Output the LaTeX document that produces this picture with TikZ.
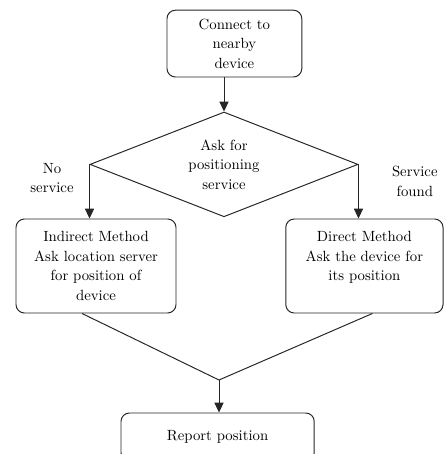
\documentclass[tikz,border=0pt]{standalone}
\usepackage{tikz}
\usetikzlibrary{shapes.geometric, positioning, arrows.meta, calc}

\begin{document}
\begin{tikzpicture}[
          bx/.style={rectangle, rounded corners=6pt, draw=black!85,
                     line width=0.7pt, align=center,
                     font=\fontsize{10.5}{13.9}\selectfont},
          dec/.style={diamond, aspect=2.55, draw=black!85, line width=0.7pt,
                      inner sep=0pt, align=center,
                      minimum width=6.7cm, minimum height=2.62cm,
                      font=\fontsize{10.5}{13.9}\selectfont},
          lbl/.style={align=center, font=\fontsize{10.5}{13.9}\selectfont},
          ln/.style={draw=black!85, line width=0.7pt},
          arr/.style={ln, -{Triangle[length=7pt, width=6.5pt]}}
        ]
        \useasboundingbox (0, 0) rectangle (11.1, -11.35);
        \clip (0, 0) rectangle (11.1, -11.35);

        \node[bx, minimum width=3.37cm, minimum height=1.67cm]
              (conn) at (5.86, -1.09) {Connect to\\nearby\\device};

        \node[dec] (ask) at (5.6, -4.11) {Ask for\\positioning\\service};

        \node[bx, minimum width=4.0cm, minimum height=2.35cm]
              (ind)  at (2.4, -6.65)
              {Indirect Method\\Ask location server\\for position of\\device};
        \node[bx, minimum width=3.93cm, minimum height=2.35cm]
              (dir)  at (9.11, -6.65)
              {Direct Method\\Ask the device for\\its position\\\mbox{}};

        \node[bx, minimum width=4.83cm, minimum height=1.2cm]
              (rep)  at (5.44, -10.925) {Report position};

        \node[lbl] (nos) at (1.3, -4.45) {No\\service};
        \node[lbl] (fnd) at (10.37, -4.53) {Service\\found};

        \coordinate (mrg) at (5.475, -9.5);

        \draw[arr] (ask.north |- conn.south) -- (ask.north);
        \draw[arr] (ask.west) -- (ask.west |- ind.north);
        \draw[arr] (ask.east) -- (ask.east |- dir.north);
        \draw[ln] ($(ind.south)+(-0.35,0)$) -- (mrg);
        \draw[ln] ($(dir.south)+(0.2,0)$) -- (mrg);
        \draw[arr] (mrg) -- (mrg |- rep.north);
      \end{tikzpicture}
\end{document}
